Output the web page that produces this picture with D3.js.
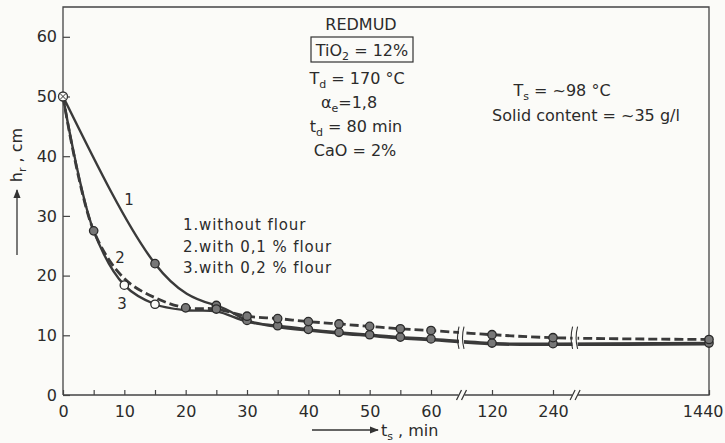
<!DOCTYPE html>
<html><head><meta charset="utf-8">
<script src="https://cdn.jsdelivr.net/npm/d3@7"></script>
<style>
body{margin:0;background:#fbfbf8}
svg{display:block}
text{font-family:"DejaVu Sans",sans-serif;fill:#2b2b2b}
</style>
</head><body><svg id="c" width="725" height="443"></svg>
<script>
// ---- data ----
const t1 = [0, 15, 25, 30, 35, 40, 45, 50, 55, 60, 120, 240, 1440];
const h1 = [50, 22, 15, 12.5, 11.6, 11.0, 10.5, 10.1, 9.7, 9.4, 8.7, 8.6, 8.7];
const t2 = [0, 5, 10, 15, 20, 25, 30, 35, 40, 45, 50, 55, 60, 120, 240, 1440];
const h2 = [50, 27.5, 19.5, 16.3, 14.6, 14.4, 13.2, 12.8, 12.3, 11.9, 11.5, 11.1, 10.8, 10.1, 9.6, 9.3];
const t3 = [0, 5, 10, 15, 20, 25, 30, 35, 40, 45, 50, 55, 60, 120, 240, 1440];
const h3 = [50, 27.5, 18.4, 15.2, 14.2, 14.0, 12.3, 11.4, 10.8, 10.3, 9.9, 9.5, 9.2, 8.5, 8.4, 8.5];
const xMajorTicks = [0, 10, 20, 30, 40, 50, 60, 120, 240, 1440];
const xMinorTicks = [5, 15, 25, 35, 45, 55];
const yTicks = [0, 10, 20, 30, 40, 50, 60];
const xBreaks = [90, 410];
const legendLines = ["1.without flour", "2.with 0,1 % flour", "3.with 0,2 % flour"];

const svg = d3.select("#c");
const L = 63, R = 709, T = 7, B = 395;
const x = d3.scaleLinear().domain([0, 60, 120, 240, 1440]).range([L, 431, 492, 553, R]);
const y = d3.scaleLinear().domain([0, 60]).range([B, B - 60 * 5.97]);
const ink = "#333";

// frame
svg.append("path").attr("d", `M${L},${B}V${T}H${R}V${B}H${L}`)
  .attr("fill", "none").attr("stroke", "#444").attr("stroke-width", 1.3);

// x axis major
const gx = svg.append("g").attr("transform", `translate(0,${B})`)
  .call(d3.axisBottom(x).tickValues(xMajorTicks).tickFormat(d3.format("d")).tickSizeInner(-5).tickSizeOuter(0).tickPadding(11));
gx.select(".domain").remove();
gx.selectAll("line").attr("stroke", "#444").attr("stroke-width", 1.2);
gx.selectAll("text").style("font-size", "16px").style("fill", "#2b2b2b");
gx.selectAll(".tick").filter(d => d === 1440).select("text").attr("text-anchor", "end").attr("x", 14);
const gxm = svg.append("g").attr("transform", `translate(0,${B})`)
  .call(d3.axisBottom(x).tickValues(xMinorTicks).tickFormat("").tickSizeInner(-5).tickSizeOuter(0));
gxm.select(".domain").remove();
gxm.selectAll("line").attr("stroke", "#444").attr("stroke-width", 1.2);

// y axis
const gy = svg.append("g").attr("transform", `translate(${L},0)`)
  .call(d3.axisLeft(y).tickValues(yTicks).tickSizeInner(-7).tickSizeOuter(0).tickPadding(6));
gy.select(".domain").remove();
gy.selectAll("line").attr("stroke", "#444").attr("stroke-width", 1.2);
gy.selectAll("text").style("font-size", "16px").style("fill", "#2b2b2b");

// axis breaks
xBreaks.forEach(b => {
  const bx = x(b);
  svg.append("rect").attr("x", bx - 3).attr("y", B - 3).attr("width", 6).attr("height", 6).attr("fill", "#fbfbf8");
  [-2.5, 2.5].forEach(o => svg.append("line")
    .attr("x1", bx + o - 2.5).attr("y1", B + 5).attr("x2", bx + o + 2.5).attr("y2", B - 5)
    .attr("stroke", ink).attr("stroke-width", 1.2));
});

// curves
const mk = (ts, hs) => ts.map((t, i) => [x(t), y(hs[i])]);
const line = d3.line().curve(d3.curveCatmullRom.alpha(0.5));
const line1 = d3.line().curve(d3.curveNatural);
const p1 = mk(t1, h1), p2 = mk(t2, h2), p3 = mk(t3, h3);
svg.append("path").attr("d", line(p3)).attr("fill", "none").attr("stroke", "#3a3a3a").attr("stroke-width", 2.4);
svg.append("path").attr("d", line1(p1)).attr("fill", "none").attr("stroke", "#3a3a3a").attr("stroke-width", 2.4);
svg.append("path").attr("d", line(p2)).attr("fill", "none").attr("stroke", "#3a3a3a").attr("stroke-width", 2.8).attr("stroke-dasharray", "9,4");

// line breaks
xBreaks.forEach(b => {
  const bx = x(b);
  const vals = [h1, h2, h3].flatMap((hs, k) => {
    const ts = [t1, t2, t3][k];
    return hs.filter((v, i) => ts[i] > 59);
  });
  const top = y(d3.max(vals)) - 4, bot = y(d3.min(vals)) + 4;
  svg.append("rect").attr("x", bx - 2.5).attr("y", top).attr("width", 5).attr("height", bot - top).attr("fill", "#fbfbf8");
  [-2.5, 2.5].forEach(o => svg.append("path")
    .attr("d", `M${bx + o},${top} Q${bx + o - 3},${(top + bot) / 2} ${bx + o},${bot}`)
    .attr("fill", "none").attr("stroke", ink).attr("stroke-width", 1.1));
});

// markers
const marks = (pts, fill) => svg.append("g").selectAll("circle")
  .data(pts).join("circle")
  .attr("cx", d => d[0]).attr("cy", d => d[1]).attr("r", 4.2)
  .attr("fill", fill).attr("stroke", "#2a2a2a").attr("stroke-width", 1.3);
marks(p3.filter((p, i) => t3[i] === 10 || t3[i] === 15), "#fbfbf8");
marks(p1.filter((p, i) => t1[i] >= 15), "#777");
marks(p2.filter((p, i) => t2[i] === 5 || t2[i] >= 20), "#777");
// start point (open circle with cross)
const s = p1[0];
svg.append("circle").attr("cx", s[0]).attr("cy", s[1]).attr("r", 4.5).attr("fill", "#fbfbf8").attr("stroke", ink).attr("stroke-width", 1.3);
svg.append("path").attr("d", `M${s[0]-3},${s[1]-3}L${s[0]+3},${s[1]+3}M${s[0]-3},${s[1]+3}L${s[0]+3},${s[1]-3}`).attr("stroke", ink).attr("stroke-width", 1);

// text helper with subscripts: parts = [[text, isSub], ...]
function rich(xp, yp, parts, opts = {}) {
  const t = svg.append("text").attr("x", xp).attr("y", yp)
    .attr("text-anchor", opts.anchor || "middle").style("font-size", (opts.size || 16) + "px");
  if (opts.ls) t.style("letter-spacing", opts.ls + "px");
  parts.forEach(([str, sub], i) => {
    const ts = t.append("tspan").text(str);
    if (sub) ts.attr("dy", 4).style("font-size", "11px");
    else if (i > 0 && parts[i - 1][1]) ts.attr("dy", -4);
  });
  return t;
}

// curve labels
rich(129, 205, [["1"]], {size: 15});
rich(120, 263, [["2"]], {size: 15});
rich(122, 309, [["3"]], {size: 15});

// legend
legendLines.forEach((str, i) => rich(183, 230 + i * 21.5, [[str]], {anchor: "start", size: 15, ls: 0.9}));

// annotations
rich(361, 30, [["REDMUD"]]);
svg.append("rect").attr("x", 311).attr("y", 37).attr("width", 102).attr("height", 25)
  .attr("fill", "none").attr("stroke", "#333").attr("stroke-width", 1.2);
rich(362, 56, [["TiO"], ["2", true], [" = 12%"]]);
rich(357, 84, [["T"], ["d", true], [" = 170 °C"]]);
rich(349, 108, [["α"], ["e", true], ["=1,8"]]);
rich(356, 132, [["t"], ["d", true], [" = 80 min"]]);
rich(355, 156, [["CaO = 2%"]]);
rich(562, 96, [["T"], ["s", true], [" = ~98 °C"]]);
rich(586, 121, [["Solid content = ~35 g/l"]]);

// axis titles
const yt = svg.append("g").attr("transform", "translate(22,155) rotate(-90)");
const ytt = yt.append("text").attr("text-anchor", "middle").style("font-size", "16px");
ytt.append("tspan").text("h");
ytt.append("tspan").text("r").attr("dy", 4).style("font-size", "11px");
ytt.append("tspan").text(" , cm").attr("dy", -4);
svg.append("defs").append("marker").attr("id", "ah").attr("viewBox", "0 0 10 10")
  .attr("refX", 9).attr("refY", 5).attr("markerWidth", 9).attr("markerHeight", 9).attr("orient", "auto")
  .attr("markerUnits", "userSpaceOnUse")
  .append("path").attr("d", "M0,1L10,5L0,9Z").attr("fill", ink);
svg.append("line").attr("x1", 17).attr("y1", 255).attr("x2", 17).attr("y2", 190)
  .attr("stroke", ink).attr("stroke-width", 1.3).attr("marker-end", "url(#ah)");
svg.append("line").attr("x1", 312).attr("y1", 430).attr("x2", 378).attr("y2", 430)
  .attr("stroke", ink).attr("stroke-width", 1.3).attr("marker-end", "url(#ah)");
const xt = svg.append("text").attr("x", 381).attr("y", 436).style("font-size", "16px");
xt.append("tspan").text("t");
xt.append("tspan").text("s").attr("dy", 4).style("font-size", "11px");
xt.append("tspan").text(" , min").attr("dy", -4);
</script>
</body></html>
